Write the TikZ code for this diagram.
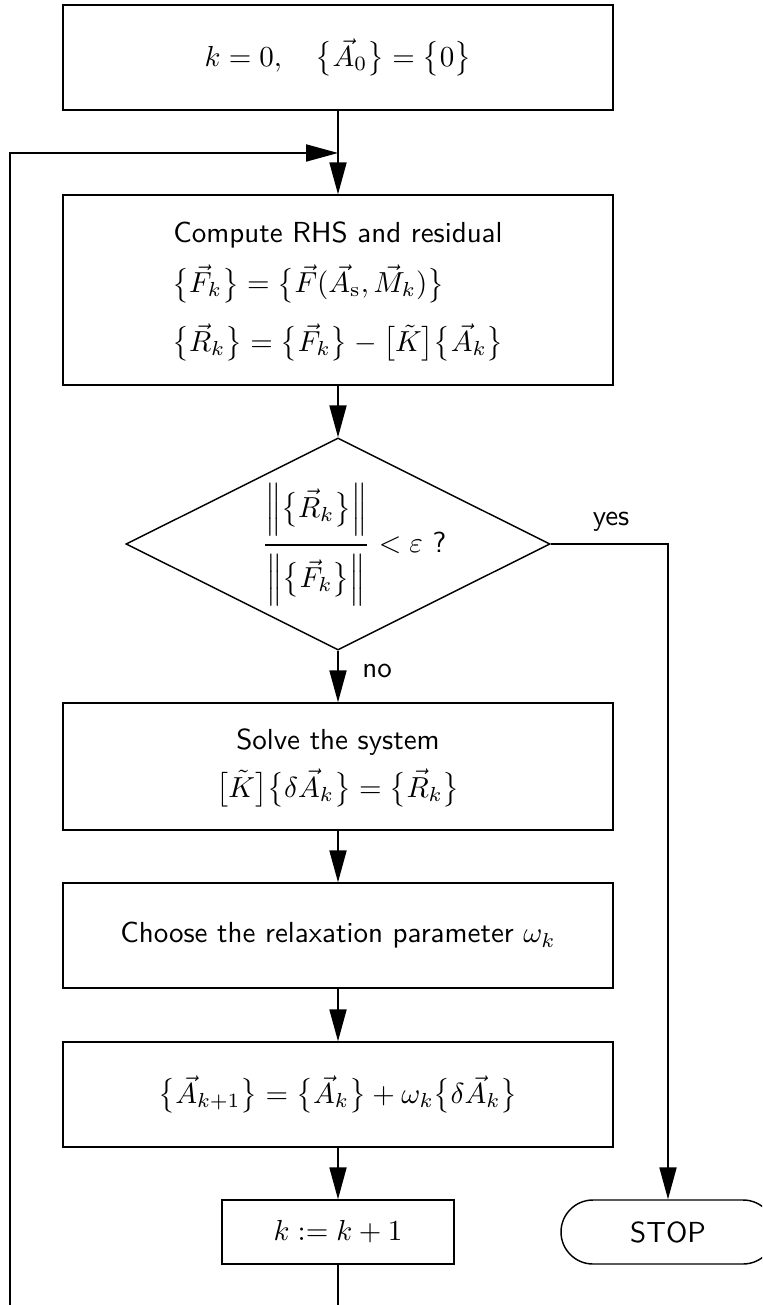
\documentclass[tikz,border=0pt]{standalone}
\usepackage{amsmath}
\usetikzlibrary{arrows.meta,shapes.geometric,shapes.misc}
\begin{document}
\begin{tikzpicture}[x=0.345pt,y=-0.345pt, font=\sffamily, line width=0.5pt,
  box/.style={draw, minimum width=189.75pt, inner sep=0pt, align=center},
  arr/.style={-{Triangle[length=11pt,width=5.9pt]}}]
\useasboundingbox (0,0) rectangle (762,1305);
\clip (0,0) rectangle (762,1305);
\node[box, minimum height=36.225pt] (init) at (338,57.5)
  {$k=0,\quad \bigl\{\vec A_0\bigr\}=\bigl\{0\bigr\}$};
\node[box, minimum height=65.55pt] (rhs) at (338,290)
  {\begin{tabular}{@{}l@{}}\multicolumn{1}{@{}c@{}}{Compute RHS and residual}\\[4pt]
   $\bigl\{\vec F_k\bigr\}=\bigl\{\vec F(\vec A_{\mathrm{s}},\vec M_k)\bigr\}$\\[7pt]
   $\bigl\{\vec R_k\bigr\}=\bigl\{\vec F_k\bigr\}-\bigl[\tilde K\bigr]\bigl\{\vec A_k\bigr\}$\end{tabular}};
\node[draw, diamond, minimum width=146.28pt, minimum height=73.14pt, inner sep=0pt] (dec) at (338,544) {};
\node (dectext) at (354,545)
  {$\genfrac{}{}{0.9pt}{0}{\Bigl\|\bigl\{\vec R_k\bigr\}\Bigr\|}{\Bigl\|\bigl\{\vec F_k\bigr\}\Bigr\|}<\varepsilon$ ?};
\node[box, minimum height=43.815pt] (solve) at (338,766.5)
  {\begin{tabular}{@{}c@{}}Solve the system\\[3pt]
   $\bigl[\tilde K\bigr]\bigl\{\delta\vec A_k\bigr\}=\bigl\{\vec R_k\bigr\}$\end{tabular}};
\node[box, minimum height=36.225pt] (relax) at (338,935.5)
  {Choose the relaxation parameter $\omega_k$};
\node[box, minimum height=36.225pt] (update) at (338,1094.5)
  {$\bigl\{\vec A_{k+1}\bigr\}=\bigl\{\vec A_k\bigr\}+\omega_k\bigl\{\delta\vec A_k\bigr\}$};
\node[box, minimum width=80.04pt, minimum height=22.08pt] (incr) at (338,1232) {$k:=k+1$};
\node[draw, rounded rectangle, minimum width=73.83pt, minimum height=22.08pt, inner sep=0pt] (stop) at (668,1232) {STOP};
\node (yeslab) at (611,522) {yes};
\node (nolab) at (377,671) {no};
\coordinate (join) at (338,153);
\coordinate (lb) at (10,1305);
\coordinate (kb) at (338,1305);
\draw[arr] (init) -- (rhs);
\draw[arr] (lb) |- (join);
\draw[arr] (rhs) -- (dec);
\draw[arr] (dec.south) -- (solve);
\draw[arr] (dec.east) -| (stop.north);
\draw[arr] (solve) -- (relax);
\draw[arr] (relax) -- (update);
\draw[arr] (update) -- (incr);
\draw (incr) -- (kb);
\end{tikzpicture}
\end{document}
